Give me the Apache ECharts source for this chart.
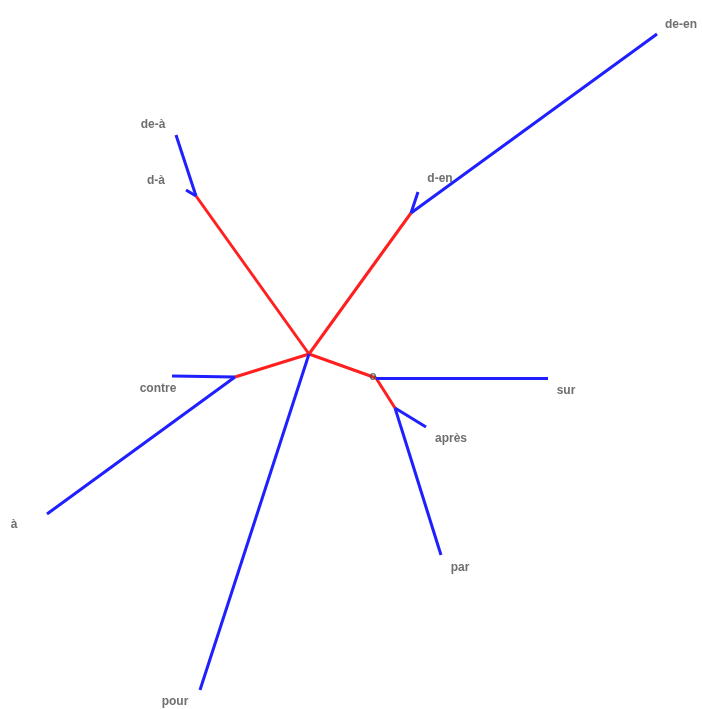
<!DOCTYPE html>
<html><head><meta charset="utf-8">
<script src="https://cdn.jsdelivr.net/npm/echarts@6/dist/echarts.min.js"></script>
<style>html,body{margin:0;padding:0;background:#fff}#c{width:702px;height:709px}</style>
</head><body><div id="c"></div>
<script>
// Tree nodes (layout coordinates, in plot units)
const nodeNames = ['root','nDa','nDen','nContre','nSur','nApres','de-à','d-à','d-en','de-en','contre','à','pour','sur','après','par'];
const nodeX = [309,196,411,235,376,395,176,186,418,657,172,47,200,548,426,441];
const nodeY = [354,196,213,377,378,408,135,190,192,34,376,514,690,378,427,555];
// Edges: [from, to, kind] kind: 'internal' (red) or 'leaf' (blue)
const edges = [
  ['root','nDa','internal'],['root','nDen','internal'],['root','nContre','internal'],
  ['root','nSur','internal'],['nSur','nApres','internal'],
  ['nDa','de-à','leaf'],['nDa','d-à','leaf'],
  ['nDen','d-en','leaf'],['nDen','de-en','leaf'],
  ['nContre','contre','leaf'],['nContre','à','leaf'],
  ['root','pour','leaf'],['nSur','sur','leaf'],
  ['nApres','après','leaf'],['nApres','par','leaf']
];
// Tip labels and label anchor positions
const labelTexts = ['de-à','d-à','d-en','de-en','contre','à','pour','sur','après','par','o'];
const labelX = [153,156,440,681,158,14,175,566,451,460,373];
const labelY = [125,181,179,25,389,525,702,391,439,568,377];

const idx = n => nodeNames.indexOf(n);
const lineData = edges.map(e => ({
  coords: [[nodeX[idx(e[0])], nodeY[idx(e[0])]], [nodeX[idx(e[1])], nodeY[idx(e[1])]]],
  lineStyle: { color: e[2] === 'internal' ? '#ff1f1f' : '#1f1fff' }
}));
const labelData = labelTexts.map((t, i) => ({ value: [labelX[i], labelY[i]], name: t }));

const chart = echarts.init(document.getElementById('c'));
chart.setOption({
  animation: false,
  grid: { left: 0, right: 0, top: 0, bottom: 0 },
  xAxis: { type: 'value', min: 0, max: 702, show: false },
  yAxis: { type: 'value', min: 0, max: 709, inverse: true, show: false },
  series: [
    { type: 'lines', coordinateSystem: 'cartesian2d', data: lineData,
      lineStyle: { width: 3, opacity: 1 }, silent: true },
    { type: 'scatter', data: labelData, symbolSize: 0, silent: true,
      label: { show: true, position: 'inside', formatter: p => p.name,
        fontFamily: 'Liberation Sans, Arial, sans-serif', fontSize: 12, fontWeight: 'bold', color: '#4a4a4a' } }
  ]
});
</script></body></html>
